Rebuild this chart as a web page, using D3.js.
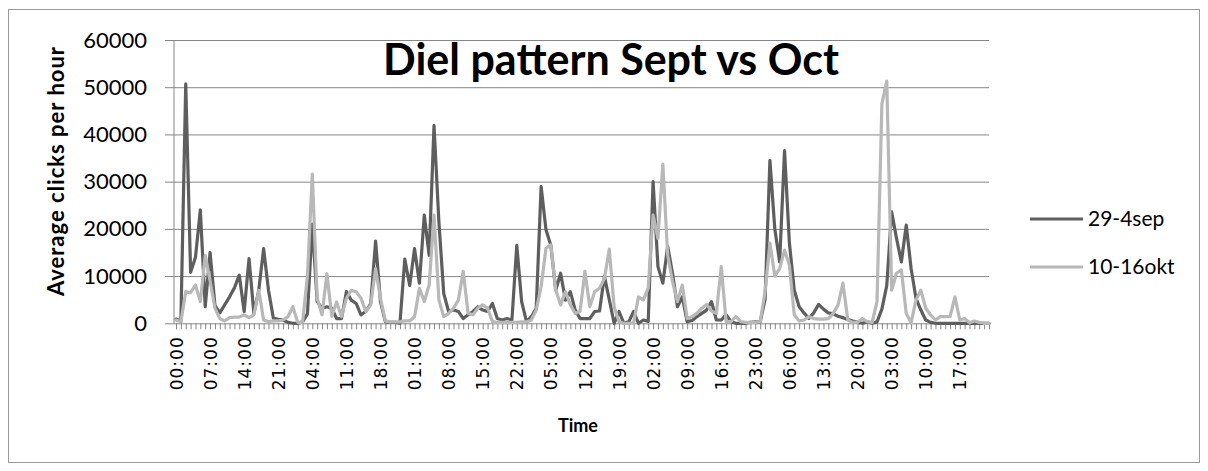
<!DOCTYPE html>
<html>
<head>
<meta charset="utf-8">
<script src="https://cdn.jsdelivr.net/npm/d3@7"></script>
<style>
  body { margin: 0; background: #fff; }
  svg { display: block; font-family: Lato, "Noto Sans", sans-serif; }
</style>
</head>
<body>
<div class="chart"></div>
<script>
// series names
var seriesNames = ["29-4sep", "10-16okt"]

// hourly labels, 7 days x 24 hours
var hours = d3.range(168).map(function(i){ return d3.format("02")(i % 24) + ":00" })

// tick labels shown on the axis (every 7th hour)
var tickLabels = ["00:00","07:00","14:00","21:00","04:00","11:00","18:00","01:00","08:00","15:00","22:00","05:00",
                  "12:00","19:00","02:00","09:00","16:00","23:00","06:00","13:00","20:00","03:00","10:00","17:00"]

var yTicks = [0, 10000, 20000, 30000, 40000, 50000, 60000]

// average clicks per hour, 29-4 sep
var sep = [
  900, 400, 50700, 10800, 14000, 24000, 3500, 15000, 3800, 2200, 3900, 5600,
  7500, 10200, 2500, 13700, 2100, 7000, 15800, 7000, 1100, 850, 700, 200,
  0, 0, 300, 2000, 21000, 4600, 3200, 3500, 3200, 1000, 1000, 6700,
  4900, 4200, 1800, 2500, 4200, 17400, 4600, 350, 200, 200, 0, 13600,
  8000, 15800, 8500, 22900, 14400, 41900, 21500, 6300, 2500, 2800, 2500, 1000,
  1800, 2500, 3500, 2800, 2500, 4200, 1000, 700, 1000, 700, 16500, 4600,
  350, 1400, 3200, 29000, 19800, 16500, 7000, 10600, 4900, 6700, 2800, 1000,
  1000, 1000, 2500, 2600, 10000, 5000, 0, 2500, 0, 300, 2500, 0,
  700, 400, 30000, 12000, 8500, 16300, 10500, 3500, 5600, 350, 600, 1400,
  2100, 2800, 4600, 700, 700, 1800, 350, 0, 0, 0, 200, 300,
  300, 5000, 34500, 20000, 13000, 36600, 17000, 7000, 3500, 2200, 1000, 2200,
  4000, 3000, 2200, 2000, 1500, 1200, 800, 500, 200, 0, 300, 0,
  300, 3000, 8000, 23600, 18000, 13000, 20800, 11600, 5300, 2800, 700, 200,
  0, 0, 0, 0, 0, 0, 0, 0, 0, 0, 0, 0
]

// average clicks per hour, 10-16 okt
var okt = [
  700, 350, 6700, 6500, 8100, 4600, 14400, 9000, 3200, 1000, 500, 1200,
  1300, 1300, 1800, 1200, 1800, 7000, 700, 350, 500, 500, 700, 1400,
  3500, 200, 200, 10000, 31600, 5300, 1800, 10500, 1500, 4500, 1400, 5300,
  7000, 6700, 5300, 2500, 3900, 11600, 5300, 500, 300, 300, 300, 500,
  500, 1400, 7400, 4600, 8100, 22900, 5000, 1400, 2100, 3200, 4900, 11000,
  2100, 1800, 3200, 3900, 3200, 350, 200, 200, 200, 200, 200, 300,
  300, 700, 2800, 7800, 15900, 16600, 7100, 3900, 6700, 3900, 2100, 2500,
  11000, 3500, 6700, 7400, 9500, 15700, 3500, 350, 0, 0, 100, 5600,
  4900, 7500, 22900, 18000, 33700, 14400, 8800, 4600, 8100, 1000, 1400, 2100,
  3200, 4000, 2600, 2100, 12000, 350, 350, 1400, 350, 200, 200, 200,
  350, 6700, 17000, 10000, 11600, 15500, 12300, 1800, 500, 700, 1400, 1000,
  900, 900, 1000, 2100, 3900, 8500, 700, 200, 200, 1000, 350, 200,
  4600, 46500, 51300, 7000, 10600, 11300, 2100, 100, 4900, 7000, 3200, 1800,
  700, 1400, 1400, 1400, 5600, 700, 1000, 100, 500, 200, 0, 0
]

var series = [sep, okt]
var colors = ["#5e5e5e", "#b8b8b8"]

// set the dimensions of the graph
var width = 1208,
    height = 471
var plot = {left: 174, right: 989, top: 40, bottom: 323.3}

var svg = d3.select(".chart")
  .append("svg")
    .attr("width", width)
    .attr("height", height)

// outer chart border
svg.append("rect")
  .attr("x", 8.5).attr("y", 9.5)
  .attr("width", 1191).attr("height", 453)
  .attr("fill", "none")
  .attr("stroke", "#9a9a9a")

var x = d3.scalePoint()
  .domain(d3.range(hours.length))
  .range([plot.left + 2, plot.right])

var y = d3.scaleLinear()
  .domain([0, 60000])
  .range([plot.bottom, plot.top])

// y axis with gridlines
var yAxis = svg.append("g")
  .attr("transform", "translate(" + (plot.left - 9) + ",0)")
  .call(d3.axisLeft(y).tickValues(yTicks).tickSize(-(plot.right - plot.left + 9)).tickPadding(18).tickFormat(d3.format("d")))
yAxis.select(".domain").remove()
yAxis.selectAll("line").attr("stroke", "#868686")
yAxis.selectAll("text")
  .attr("fill", "#000")
  .style("font-size", "22px")
  .style("font-family", "Lato")

// vertical axis line
svg.append("line")
  .attr("x1", plot.left).attr("x2", plot.left)
  .attr("y1", plot.top).attr("y2", plot.bottom)
  .attr("stroke", "#868686")

// small ticks for every hour
var minor = svg.append("g")
  .attr("transform", "translate(0," + plot.bottom + ")")
  .call(d3.axisBottom(x).tickSize(6).tickFormat(""))
minor.select(".domain").remove()
minor.selectAll("line").attr("stroke", "#868686")

// labelled ticks
var xAxis = svg.append("g")
  .attr("transform", "translate(0," + plot.bottom + ")")
  .call(d3.axisBottom(x)
    .tickValues(d3.range(0, hours.length, 7))
    .tickSize(0)
    .tickFormat(function(d){ return tickLabels[d / 7] }))
xAxis.select(".domain").remove()
xAxis.selectAll("text")
  .attr("fill", "#000")
  .attr("x", 0).attr("y", 0)
  .attr("dy", "0.36em")
  .attr("transform", "translate(0,13) rotate(-90)")
  .style("text-anchor", "end")
  .style("font-family", "DejaVu Sans")
  .style("font-size", "17px")
  .style("letter-spacing", "1px")

// lines
var line = d3.line()
  .x(function(d, i){ return x(i) })
  .y(function(d){ return y(d) })

svg.selectAll(".series")
  .data(series)
  .enter()
  .append("path")
    .attr("class", "series")
    .attr("d", line)
    .attr("fill", "none")
    .attr("stroke", function(d, i){ return colors[i] })
    .attr("stroke-width", 3.2)
    .attr("stroke-linejoin", "round")
    .attr("stroke-linecap", "round")

// title
svg.append("text")
  .attr("x", 611).attr("y", 75)
  .attr("text-anchor", "middle")
  .style("font-weight", "bold")
  .style("font-size", "43px")
  .text("Diel pattern Sept vs Oct")

// axis titles
svg.append("text")
  .attr("transform", "translate(64,171) rotate(-90)")
  .attr("text-anchor", "middle")
  .style("font-weight", "bold")
  .style("font-size", "22px")
  .style("letter-spacing", "1px")
  .text("Average clicks per hour")

svg.append("text")
  .attr("x", 578).attr("y", 432)
  .attr("text-anchor", "middle")
  .style("font-weight", "bold")
  .style("font-size", "18px")
  .text("Time")

// legend
var legend = svg.selectAll(".legend")
  .data(seriesNames)
  .enter()
  .append("g")
    .attr("class", "legend")
    .attr("transform", function(d, i){ return "translate(1030," + (219 + i * 48) + ")" })

legend.append("line")
  .attr("x1", 0).attr("x2", 53)
  .attr("stroke", function(d, i){ return colors[i] })
  .attr("stroke-width", 3.2)

legend.append("text")
  .attr("x", 58)
  .attr("dy", "0.35em")
  .style("font-size", "21px")
  .text(function(d){ return d })
</script>
</body>
</html>
